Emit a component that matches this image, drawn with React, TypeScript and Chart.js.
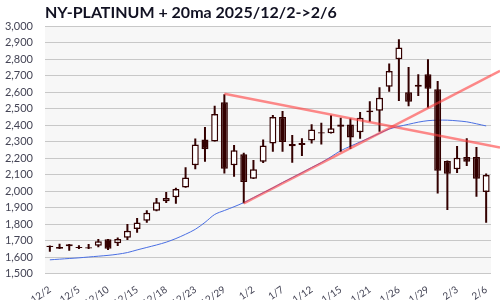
import React, { useEffect, useRef } from "react";
import { Chart, registerables } from "chart.js";
Chart.register(...registerables);

const titleText = "NY-PLATINUM + 20ma 2025/12/2->2/6";

const dates = [
  "12/2", "12/3", "12/4", "12/5", "12/8", "12/9", "12/10", "12/11", "12/12", "12/15",
  "12/16", "12/17", "12/18", "12/19", "12/22", "12/23", "12/24", "12/26", "12/29", "12/30",
  "12/31", "1/2", "1/5", "1/6", "1/7", "1/8", "1/9", "1/12", "1/13", "1/14",
  "1/15", "1/16", "1/20", "1/21", "1/22", "1/23", "1/26", "1/27", "1/28", "1/29",
  "1/30", "2/2", "2/3", "2/4", "2/5", "2/6",
];

const opens = [
  1668, 1650, 1677, 1660, 1659, 1669, 1707, 1683, 1717, 1770,
  1820, 1881, 1938, 1962, 2022, 2156, 2313, 2301, 2539, 2156,
  2224, 2075, 2178, 2289, 2449, 2285, 2279, 2307, 2357, 2350,
  2390, 2404, 2356, 2478, 2487, 2632, 2800, 2600, 2645, 2709,
  2618, 2182, 2132, 2206, 2206, 1994,
];
const highs = [
  1670, 1681, 1679, 1671, 1679, 1709, 1710, 1719, 1800, 1836,
  1883, 1958, 1994, 2020, 2144, 2319, 2388, 2517, 2588, 2279,
  2232, 2188, 2313, 2461, 2485, 2340, 2320, 2405, 2415, 2460,
  2444, 2440, 2479, 2545, 2629, 2774, 2921, 2753, 2709, 2800,
  2667, 2185, 2273, 2321, 2267, 2107,
];
const lows = [
  1632, 1648, 1638, 1648, 1649, 1659, 1642, 1667, 1703, 1747,
  1808, 1878, 1927, 1923, 2020, 2132, 2178, 2300, 2107, 2087,
  1926, 2073, 2170, 2238, 2238, 2172, 2212, 2288, 2283, 2349,
  2238, 2255, 2318, 2420, 2360, 2602, 2547, 2515, 2577, 2505,
  1985, 1885, 2110, 2152, 1966, 1808,
];
const closes = [
  1660, 1661, 1666, 1655, 1651, 1695, 1650, 1709, 1760, 1810,
  1869, 1932, 1958, 2012, 2083, 2283, 2253, 2467, 2135, 2247,
  2055, 2132, 2277, 2449, 2297, 2272, 2292, 2374, 2349, 2381,
  2404, 2325, 2444, 2489, 2566, 2729, 2871, 2541, 2632, 2620,
  2123, 2105, 2202, 2178, 2075, 2097,
];
const ma20 = [
  1583, 1587, 1591, 1595, 1600, 1605, 1610, 1617, 1627, 1643,
  1658, 1673, 1690, 1712, 1738, 1768, 1810, 1858, 1882, 1905,
  1930, 1960, 1990, 2020, 2052, 2082, 2112, 2143, 2173, 2208,
  2245, 2272, 2298, 2324, 2350, 2376, 2392, 2405, 2418, 2427,
  2430, 2430, 2426, 2420, 2408, 2395,
];

// trend lines: [index, value] pairs
const trendDown = [[18, 2590], [45, 2281]];
const trendUp = [[20, 1926], [45, 2686]];

const yMin = 1500;
const yMax = 3000;
const yStep = 100;
const labelEvery = 3;

const DARK = "#330000";

export default function App() {
  const ref = useRef<HTMLCanvasElement>(null);
  useEffect(() => {
    document.body.style.margin = "0";
    const canvas = ref.current!;
    const bgPlugin = {
      id: "bgPlugin",
      beforeDraw(chart: any) {
        const { ctx, chartArea: a } = chart;
        ctx.save();
        ctx.fillStyle = "#f7f7f7";
        ctx.fillRect(a.left, a.top, a.right - a.left, a.bottom - a.top);
        ctx.restore();
      },
    };
    const trendPlugin = {
      id: "trendPlugin",
      afterDatasetsDraw(chart: any) {
        const { ctx } = chart;
        const xs = chart.scales.x;
        const ys = chart.scales.y;
        ctx.save();
        ctx.strokeStyle = "rgba(255, 60, 60, 0.6)";
        ctx.lineWidth = 2.5;
        for (const ln of [trendDown, trendUp]) {
          const x1 = xs.getPixelForValue(ln[0][0]);
          const y1 = ys.getPixelForValue(ln[0][1]);
          const x2 = xs.getPixelForValue(ln[1][0]);
          const y2 = ys.getPixelForValue(ln[1][1]);
          const xe = chart.width;
          const ye = y1 + ((y2 - y1) / (x2 - x1)) * (xe - x1);
          ctx.beginPath();
          ctx.moveTo(x1, y1);
          ctx.lineTo(xe, ye);
          ctx.stroke();
        }
        ctx.restore();
      },
    };
    const chart = new Chart(canvas, {
      type: "bar",
      data: {
        labels: dates,
        datasets: [
          {
            type: "line",
            data: ma20,
            borderColor: "#4a6fe3",
            borderWidth: 1,
            pointRadius: 0,
            tension: 0.3,
            order: 3,
          } as any,
          {
            type: "bar",
            data: dates.map((_, i) => [lows[i], highs[i]]),
            backgroundColor: DARK,
            barThickness: 2,
            grouped: false,
            inflateAmount: 0,
            order: 2,
          } as any,
          {
            type: "bar",
            data: dates.map((_, i) => [opens[i], closes[i]]),
            backgroundColor: dates.map((_, i) => (closes[i] >= opens[i] ? "#ffffff" : DARK)),
            borderColor: DARK,
            borderWidth: 1.5,
            borderSkipped: false,
            barThickness: 7,
            grouped: false,
            inflateAmount: 0,
            order: 1,
          } as any,
        ],
      },
      options: {
        responsive: false,
        animation: false,
        layout: { padding: { left: 0, right: 9, top: 0, bottom: 0 } },
        plugins: {
          legend: { display: false },
          tooltip: { enabled: false },
          title: {
            display: true,
            text: titleText,
            align: "start",
            fullSize: false,
            color: "#111122",
            font: { family: "Lato", size: 16, weight: "bold" },
            padding: { top: 3, bottom: 4 },
          },
        },
        scales: {
          x: {
            grid: { display: false },
            border: { display: false },
            ticks: {
              autoSkip: false,
              maxRotation: 35,
              minRotation: 35,
              padding: 2,
              color: "#444455",
              font: { family: "Lato", size: 10 },
              callback: (_v: any, i: number) => (i % labelEvery === 0 ? dates[i] : ""),
            },
            afterFit: (s: any) => {
              s.height = 26.5;
            },
          },
          y: {
            min: yMin,
            max: yMax,
            grid: { color: "#c8c8c8", lineWidth: 1, drawTicks: false },
            border: { display: false },
            ticks: {
              stepSize: yStep,
              padding: 12,
              color: "#444455",
              font: { family: "Lato", size: 11 },
            },
            afterFit: (s: any) => {
              s.width = 45;
            },
          },
        },
      },
      plugins: [bgPlugin, trendPlugin],
    } as any);
    return () => chart.destroy();
  }, []);
  return <canvas ref={ref} width={500} height={300} style={{ display: "block" }} />;
}
